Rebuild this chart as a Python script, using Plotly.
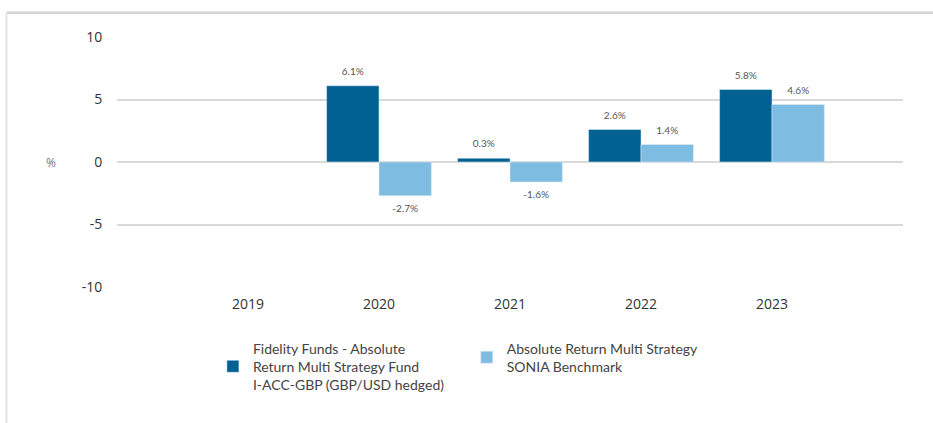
import plotly.graph_objects as go

years = ["2019", "2020", "2021", "2022", "2023"]
fund = [None, 6.1, 0.3, 2.6, 5.8]
bench = [None, -2.7, -1.6, 1.4, 4.6]
fund_name = "Fidelity Funds - Absolute<br>Return Multi Strategy Fund<br>I-ACC-GBP (GBP/USD hedged)"
bench_name = "Absolute Return Multi Strategy<br>SONIA Benchmark"
y_ticks = [-10, -5, 0, 5, 10]
y_tick_text = ["-10", "-5", "0", "5", "10"]

dark = "#006192"
light = "#7fbce2"


def labels(vals):
    return [None if v is None else f"{v}%" for v in vals]


def positions(vals):
    return ["top center" if (v is not None and v >= 0) else "bottom center" for v in vals]


fig = go.Figure()
fig.add_trace(go.Bar(x=years, y=fund, name=fund_name, marker_color=dark,
                     offsetgroup="f", legend="legend", hoverinfo="skip"))
fig.add_trace(go.Bar(x=years, y=bench, name=bench_name, marker_color=light,
                     offsetgroup="b", legend="legend2", hoverinfo="skip"))
for vals, grp in ((fund, "f"), (bench, "b")):
    fig.add_trace(go.Scatter(x=years, y=vals, mode="markers+text", offsetgroup=grp,
                             marker=dict(size=12, opacity=0),
                             text=labels(vals), textposition=positions(vals),
                             textfont=dict(family="Lato, sans-serif", size=10, color="#555555"),
                             showlegend=False, hoverinfo="skip", cliponaxis=False))

fig.update_layout(
    width=933, height=423,
    margin=dict(l=117, r=30, t=37, b=136),
    paper_bgcolor="white", plot_bgcolor="white",
    barmode="group", bargap=0.2, bargroupgap=0,
    scattermode="group", scattergap=0.2,
    font=dict(family="Open Sans, sans-serif", size=14, color="#333333"),
    xaxis=dict(type="category", range=[-1, 5], showgrid=False, zeroline=False,
               showline=False, ticks="outside", ticklen=4, tickcolor="rgba(0,0,0,0)",
               tickfont=dict(size=14, color="#333333")),
    yaxis=dict(range=[-10, 10], tickvals=y_ticks, ticktext=y_tick_text, showgrid=True,
               gridcolor="#d9d9d9", gridwidth=2, zeroline=True, zerolinecolor="#d9d9d9",
               zerolinewidth=2, showline=False, ticks="outside", ticklen=11,
               tickcolor="rgba(0,0,0,0)", tickfont=dict(size=14, color="#333333")),
    legend=dict(x=0.122, y=-0.182, xanchor="left", yanchor="top", orientation="v",
                valign="middle", font=dict(family="Lato, sans-serif", size=14, color="#444444"),
                bgcolor="rgba(0,0,0,0)"),
    legend2=dict(x=0.445, y=-0.182, xanchor="left", yanchor="top", orientation="v",
                 valign="middle", font=dict(family="Lato, sans-serif", size=14, color="#444444"),
                 bgcolor="rgba(0,0,0,0)"),
    annotations=[dict(text="%", xref="paper", yref="y", x=-0.084, y=0, showarrow=False,
                      xanchor="center", yanchor="middle",
                      font=dict(family="Open Sans, sans-serif", size=12, color="#777777"))],
    shapes=[
        dict(type="line", xref="paper", yref="paper", x0=-0.1406, x1=1.05, y0=1.0968, y1=1.0968,
             line=dict(color="#d4d4d4", width=2.5)),
        dict(type="line", xref="paper", yref="paper", x0=-0.1406, x1=-0.1406, y0=1.0968, y1=-0.6,
             line=dict(color="#e2e2e2", width=2)),
    ],
)

fig.write_html("out.html")
